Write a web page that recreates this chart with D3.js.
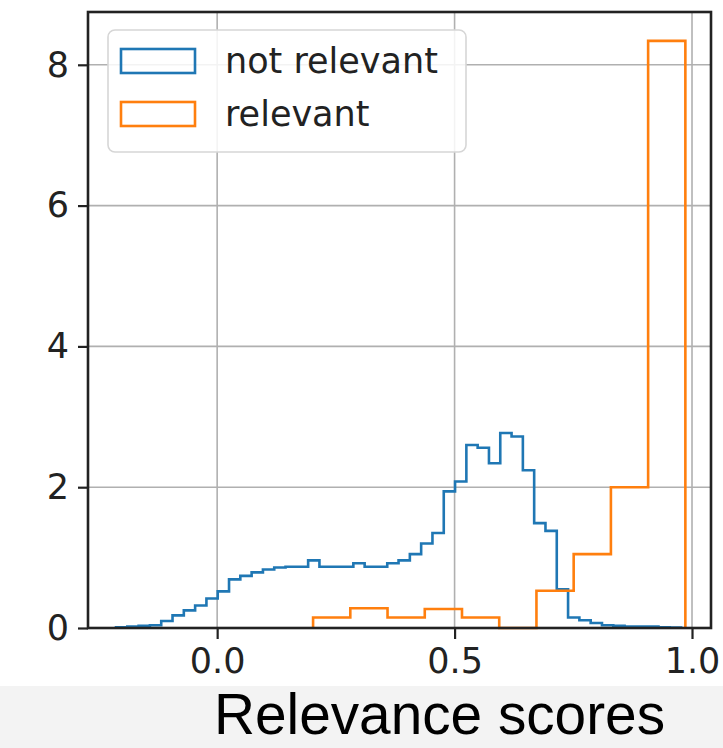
<!DOCTYPE html>
<html>
<head>
<meta charset="utf-8">
<script src="https://cdn.jsdelivr.net/npm/d3@7"></script>
<style>
  body { margin: 0; background: #ffffff; }
  svg { display: block; }
</style>
</head>
<body>
<svg id="chart" width="723" height="748"></svg>
<script>
// histogram densities
const notRelevantRange = [-0.213, 0.977];   // 50 bins
const notRelevantValues = [
  0.01, 0.02, 0.03, 0.04, 0.10, 0.18, 0.25, 0.32, 0.42, 0.52,
  0.69, 0.74, 0.79, 0.83, 0.86, 0.87, 0.87, 0.96, 0.87, 0.87,
  0.87, 0.92, 0.87, 0.87, 0.92, 0.96, 1.05, 1.20, 1.35, 1.94,
  2.08, 2.60, 2.56, 2.34, 2.77, 2.72, 2.24, 1.49, 1.38, 0.55,
  0.15, 0.11, 0.07, 0.04, 0.03, 0.02, 0.02, 0.02, 0.01, 0.005
];
const relevantRange = [0.202, 0.986];       // 10 bins
const relevantValues = [0.15, 0.28, 0.15, 0.27, 0.15, 0.0, 0.53, 1.05, 2.0, 8.34];

const seriesNames = ["not relevant", "relevant"];
const xTicks = [0.0, 0.5, 1.0];
const yTicks = [0, 2, 4, 6, 8];
const xLabel = "Relevance scores";

const colors = ["#1f77b4", "#ff7f0e"];

const svg = d3.select("#chart");

// plot box
const plotLeft = 88, plotRight = 711, plotTop = 12, plotBottom = 628;

const x = d3.scaleLinear().domain([-0.272, 1.04]).range([plotLeft, plotRight]);
const y = d3.scaleLinear().domain([0, 8.75]).range([plotBottom, plotTop]);

// light band at the bottom of the picture
svg.append("rect")
  .attr("x", 0).attr("y", 686)
  .attr("width", 723).attr("height", 62)
  .attr("fill", "#f3f3f3");

// grid
svg.append("g")
  .selectAll("line")
  .data(xTicks)
  .enter().append("line")
  .attr("x1", d => x(d)).attr("x2", d => x(d))
  .attr("y1", plotTop).attr("y2", plotBottom)
  .attr("stroke", "#b0b0b0").attr("stroke-width", 1.6);

svg.append("g")
  .selectAll("line")
  .data(yTicks)
  .enter().append("line")
  .attr("x1", plotLeft).attr("x2", plotRight)
  .attr("y1", d => y(d)).attr("y2", d => y(d))
  .attr("stroke", "#b0b0b0").attr("stroke-width", 1.6);

// step histograms
function binEdges(range, n) {
  const w = (range[1] - range[0]) / n;
  return d3.range(n + 1).map(i => range[0] + i * w);
}

function stepPoints(range, values) {
  const edges = binEdges(range, values.length);
  const pts = [[edges[0], 0]];
  values.forEach((v, i) => pts.push([edges[i], v]));
  pts.push([edges[edges.length - 1], 0]);
  return pts;
}

const stepLine = d3.line()
  .x(d => x(d[0]))
  .y(d => y(d[1]))
  .curve(d3.curveStepAfter);

[[notRelevantRange, notRelevantValues], [relevantRange, relevantValues]].forEach((s, i) => {
  svg.append("path")
    .datum(stepPoints(s[0], s[1]))
    .attr("d", stepLine)
    .attr("fill", "none")
    .attr("stroke", colors[i])
    .attr("stroke-width", 2.6)
    .attr("stroke-linejoin", "miter");
});

// axes
const xAxis = svg.append("g")
  .attr("transform", "translate(0," + plotBottom + ")")
  .call(d3.axisBottom(x).tickValues(xTicks).tickFormat(d3.format(".1f")).tickSize(11).tickPadding(9));

const yAxis = svg.append("g")
  .attr("transform", "translate(" + plotLeft + ",0)")
  .call(d3.axisLeft(y).tickValues(yTicks).tickFormat(d3.format("d")).tickSize(10).tickPadding(9));

[xAxis, yAxis].forEach(a => {
  a.select(".domain").remove();
  a.selectAll(".tick line").attr("stroke", "#222").attr("stroke-width", 2.2);
  a.selectAll(".tick text")
    .attr("fill", "#222")
    .style("font-family", "'DejaVu Sans', sans-serif")
    .style("font-size", "35px");
});

// frame
svg.append("rect")
  .attr("x", plotLeft).attr("y", plotTop)
  .attr("width", plotRight - plotLeft).attr("height", plotBottom - plotTop)
  .attr("fill", "none")
  .attr("stroke", "#222").attr("stroke-width", 2.6);

// legend
const legend = svg.append("g");
legend.append("rect")
  .attr("x", 108).attr("y", 30)
  .attr("width", 358).attr("height", 122)
  .attr("rx", 7)
  .attr("fill", "#ffffff").attr("fill-opacity", 0.85)
  .attr("stroke", "#d6d6d6").attr("stroke-width", 1.6);

seriesNames.forEach((name, i) => {
  const row = legend.append("g").attr("transform", "translate(0," + (i * 53) + ")");
  row.append("rect")
    .attr("x", 121).attr("y", 49)
    .attr("width", 74).attr("height", 24)
    .attr("fill", "none")
    .attr("stroke", colors[i]).attr("stroke-width", 2.6);
  row.append("text")
    .attr("x", 225).attr("y", 73)
    .attr("fill", "#222")
    .style("font-family", "'DejaVu Sans', sans-serif")
    .style("font-size", "35px")
    .text(name);
});

// x label
svg.append("text")
  .attr("x", 214).attr("y", 734)
  .attr("textLength", 451)
  .attr("lengthAdjust", "spacingAndGlyphs")
  .attr("fill", "#000")
  .style("font-family", "'Liberation Sans', Arial, sans-serif")
  .style("font-size", "58px")
  .text(xLabel);
</script>
</body>
</html>
